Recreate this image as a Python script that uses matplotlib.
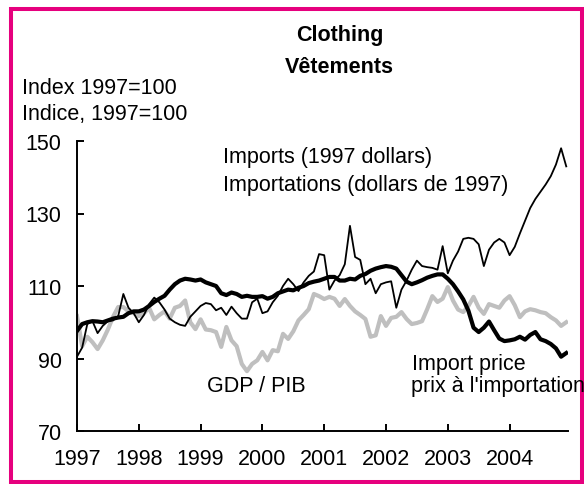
import numpy as np
import matplotlib
matplotlib.use("Agg")
import matplotlib.pyplot as plt
from matplotlib.patches import Rectangle

plt.rcParams["font.family"] = ["Liberation Sans", "DejaVu Sans"]

# monthly series, Jan 1997 - Dec 2004 (index 1997=100)
IMPORTS = [
    90.5, 93.0, 99.5, 100.3, 97.0, 99.0, 100.3, 100.5, 101.7, 107.8, 104.0, 102.5,
    100.0, 102.0, 105.0, 106.8, 105.5, 103.5, 101.0, 100.0, 99.3, 99.0, 101.5, 103.0,
    104.5, 105.3, 105.0, 103.3, 104.0, 102.0, 104.3, 102.5, 101.0, 101.0, 105.5, 106.5,
    102.5, 103.0, 105.5, 107.3, 110.0, 112.0, 110.5, 108.6, 111.0, 112.8, 114.0, 118.8,
    118.5, 109.0, 111.5, 113.0, 116.0, 126.6, 118.0, 117.2, 110.5, 112.0, 108.0, 110.5,
    111.0, 111.3, 104.0, 109.0, 111.5, 114.5, 117.0, 115.5, 115.2, 115.0, 114.5, 121.0,
    113.5, 117.0, 119.5, 123.0, 123.3, 123.0, 121.5, 115.5, 120.0, 122.0, 123.0, 122.0,
    118.5, 120.8, 124.5, 128.0, 131.5, 134.0, 136.0, 138.0, 140.3, 143.5, 148.0, 143.0,
]

IMPORT_PRICE = [
    97.6, 99.5, 100.0, 100.3, 100.2, 100.0, 100.5, 101.0, 101.3, 101.5, 102.5, 103.0,
    103.0, 103.5, 104.5, 105.6, 106.5, 107.3, 109.0, 110.5, 111.5, 112.0, 111.8, 111.5,
    111.8, 111.0, 110.5, 110.0, 108.0, 107.5, 108.2, 107.8, 107.0, 107.3, 107.0, 107.0,
    107.2, 106.5, 107.0, 108.0, 108.5, 109.0, 108.8, 109.5, 110.0, 110.8, 111.2, 111.5,
    112.0, 112.5, 112.5, 111.5, 111.5, 112.0, 111.8, 112.8, 113.3, 114.2, 114.8, 115.2,
    115.5, 115.3, 114.8, 113.0, 111.2, 110.5, 111.0, 111.6, 112.3, 112.8, 113.2, 113.2,
    112.0, 110.5, 108.5, 106.3, 103.2, 98.5, 97.3, 98.5, 100.2, 97.8, 95.5, 94.8,
    95.0, 95.3, 96.0, 95.2, 96.5, 97.3, 95.3, 94.8, 94.0, 92.8, 90.5, 91.5,
]

GDP = [
    101.7, 93.4, 96.0, 94.5, 92.6, 95.0, 98.0, 101.5, 104.2, 104.2, 103.0, 102.5,
    101.7, 102.5, 104.0, 100.8, 102.0, 103.0, 101.0, 104.0, 104.5, 106.0, 100.0, 98.1,
    100.8, 98.0, 97.8, 97.3, 93.2, 98.7, 95.0, 93.4, 88.5, 86.5, 88.5, 89.5,
    91.8, 89.5, 92.3, 92.0, 96.8, 95.4, 97.5, 100.5, 102.0, 103.6, 107.8, 107.2,
    106.4, 107.0, 106.5, 104.5, 106.4, 104.5, 103.0, 102.0, 100.9, 96.0, 96.4, 101.7,
    99.0, 101.2, 101.5, 102.8, 100.9, 99.5, 99.8, 100.3, 103.6, 107.2, 105.6, 106.5,
    109.7, 106.0, 103.5, 102.8, 104.5, 107.0, 104.0, 102.3, 105.0, 104.5, 104.0, 106.0,
    107.2, 104.7, 101.4, 103.0, 103.6, 103.3, 102.8, 102.5, 101.4, 100.5, 99.0, 100.0,
]

YEARS = [1997, 1998, 1999, 2000, 2001, 2002, 2003, 2004]
Y_TICKS = [70, 90, 110, 130, 150]

W, H = 584, 485
FS = 15.5
months = YEARS[0] + np.arange(len(GDP)) / 12.0

fig = plt.figure(figsize=(W / 100, H / 100), dpi=100)
ax = fig.add_axes([77 / W, 1 - 432 / H, (568 - 77) / W, (432 - 142) / H])

ax.plot(months, GDP, color="#BFBFBF", lw=3.0, solid_joinstyle="round")
ax.plot(months, IMPORTS, color="black", lw=1.3, solid_joinstyle="round")
ax.plot(months, IMPORT_PRICE, color="black", lw=3.0, solid_joinstyle="round")

ax.set_xlim(1997, 2004.945)
ax.set_ylim(70, 150)
ax.set_xticks(YEARS)
ax.set_xticklabels([str(y) for y in YEARS])
ax.set_yticks(Y_TICKS)
for s in ["top", "right"]:
    ax.spines[s].set_visible(False)
for s in ["left", "bottom"]:
    ax.spines[s].set_linewidth(1.4)
ax.tick_params(direction="in", length=5, width=1.4, labelsize=FS)
ax.tick_params(axis="y", pad=11)
ax.tick_params(axis="x", pad=12)


def ftext(x, y, s, **kw):
    # pixel position (baseline, left) -> figure fraction
    fig.text(x / W, 1 - y / H, s, va="baseline", fontsize=FS, zorder=5, **kw)


ftext(340, 41, "Clothing", ha="center", fontweight="bold")
ftext(339, 73, "Vêtements", ha="center", fontweight="bold")
ftext(22, 94, "Index 1997=100")
ftext(22, 120, "Indice, 1997=100")
ftext(223, 163, "Imports (1997 dollars)")
ftext(223, 191, "Importations (dollars de 1997)")
ftext(207, 392, "GDP / PIB")
ftext(412, 370, "Import price")
ftext(411, 392, "prix à l'importation")

border = Rectangle((11.3 / W, 2 / H), (581.5 - 11.3) / W, (483 - 10) / H,
                   transform=fig.transFigure, fill=False,
                   edgecolor="#E6007E", lw=2.9, zorder=1)
fig.patches.append(border)

fig.savefig("out.png", dpi=100)
